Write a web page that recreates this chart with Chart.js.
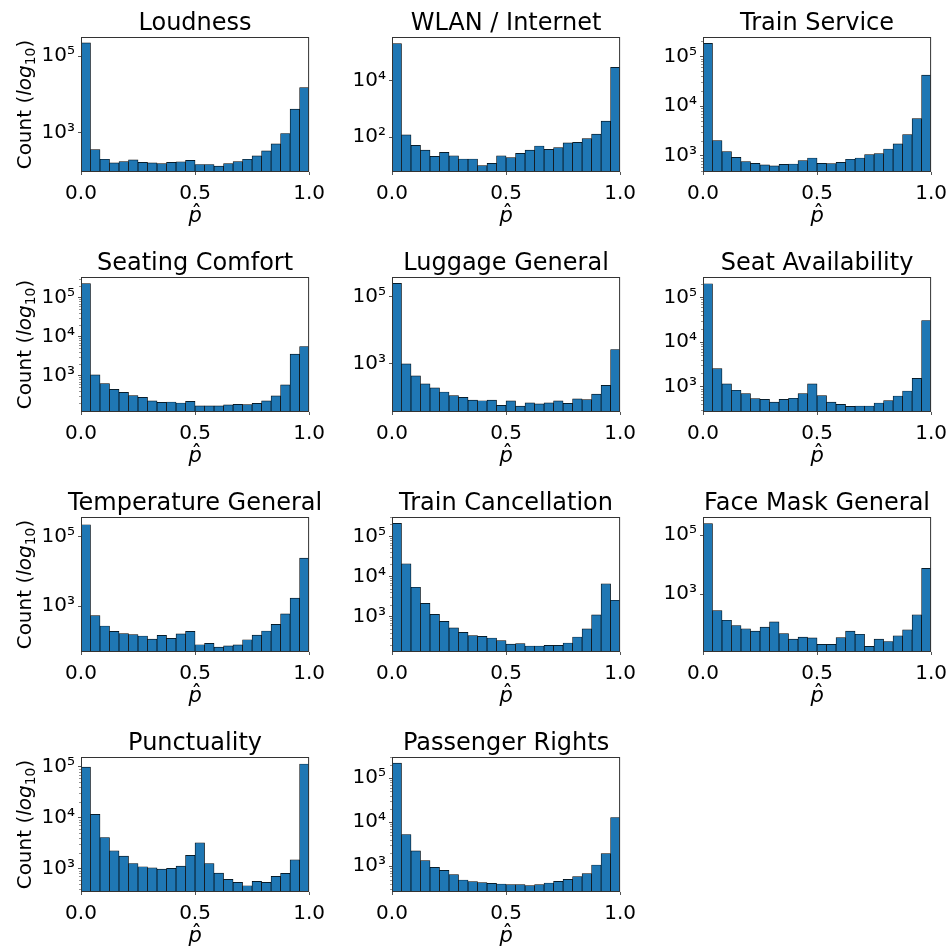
<!DOCTYPE html>
<html lang="en">
<head>
<meta charset="utf-8">
<title>Histograms of p-hat per aspect</title>
<script src="https://cdn.jsdelivr.net/npm/chart.js"></script>
<style>
    html, body { margin: 0; padding: 0; background: #fff; }
    #fig { position: relative; width: 951px; height: 950px; overflow: hidden; }
    #fig canvas { position: absolute; }
</style>
</head>
<body>
<div id="fig"></div>
<script>
    // 24 bins over [0, 1]
    const binCount = 24;
    const xTicks = [0, 0.5, 1];

    const titles = ['Loudness', 'WLAN / Internet', 'Train Service', 'Seating Comfort', 'Luggage General',
        'Seat Availability', 'Temperature General', 'Train Cancellation', 'Face Mask General',
        'Punctuality', 'Passenger Rights'];

    // counts per bin
    const loudness = [224000, 357, 199, 159, 173, 191, 165, 159, 152, 165, 170, 187, 145, 145, 131, 152, 173, 199, 243, 330, 503, 942, 4110, 14970];
    const wlanInternet = [206000, 121, 52, 35, 21, 29, 22, 17, 17, 10, 12, 22, 19, 27, 35, 49, 37, 43, 63, 66, 90, 128, 370, 29700];
    const trainService = [183000, 2040, 1220, 940, 770, 710, 660, 630, 680, 690, 805, 910, 710, 700, 745, 860, 910, 1060, 1110, 1380, 1750, 2690, 5650, 42000];
    const seatingComfort = [229000, 1040, 622, 445, 372, 305, 277, 223, 206, 210, 198, 218, 166, 166, 166, 176, 183, 179, 194, 223, 300, 575, 3550, 5590];
    const luggageGeneral = [243000, 1000, 441, 255, 194, 147, 115, 102, 85, 81, 85, 59, 80, 56, 70, 65, 70, 80, 68, 92, 87, 128, 232, 2670];
    const seatAvailability = [203000, 2540, 1150, 830, 700, 540, 520, 450, 520, 550, 700, 1150, 630, 450, 400, 360, 368, 368, 430, 485, 617, 800, 1540, 30400];
    const temperatureGeneral = [216000, 540, 272, 191, 164, 154, 141, 115, 147, 121, 161, 191, 79, 87, 68, 73, 78, 110, 150, 196, 304, 602, 1700, 23900];
    const trainCancellation = [211000, 20700, 5400, 2150, 1140, 765, 521, 406, 335, 322, 293, 251, 207, 211, 185, 185, 192, 192, 220, 310, 492, 1100, 6560, 2560];
    const faceMaskGeneral = [242000, 279, 131, 87, 67, 56, 76, 115, 46, 30, 35, 33, 20, 20, 34, 56, 44, 17, 30, 25, 39, 62, 200, 7410];
    const punctuality = [98500, 11600, 4060, 2220, 1750, 1250, 1080, 1030, 970, 1000, 1110, 1800, 3190, 1250, 810, 608, 531, 457, 556, 531, 697, 798, 1480, 113000];
    const passengerRights = [219000, 5250, 2230, 1350, 948, 811, 647, 489, 449, 426, 411, 397, 383, 383, 364, 383, 418, 456, 507, 582, 681, 1070, 1940, 12760];

    const series = [loudness, wlanInternet, trainService, seatingComfort, luggageGeneral, seatAvailability,
        temperatureGeneral, trainCancellation, faceMaskGeneral, punctuality, passengerRights];

    // y ranges and labelled decades of each panel
    const yMin = [92, 5.9, 476, 116, 37.5, 270, 49, 131, 11, 344, 261];
    const yMax = [3.2e5, 3.5e5, 2.45e5, 3.4e5, 3.75e5, 2.87e5, 3.59e5, 3.04e5, 4.08e5, 1.55e5, 3.0e5];
    const yDecades = [[3, 5], [2, 4], [3, 4, 5], [3, 4, 5], [3, 5], [3, 4, 5], [3, 5], [3, 4, 5], [3, 5], [3, 4, 5], [3, 4, 5]];

    // layout of the axes boxes on the page
    const AX_LEFT = [81, 392, 703];
    const AX_TOP = [37, 277, 517, 757];
    const AX_W = 229, AX_H = 135;
    const PAD_L = 80, PAD_T = 36, PAD_R = 22, PAD_B = 58;
    const FONT = 'DejaVu Sans';
    const SUP = { 1: '¹', 2: '²', 3: '³', 4: '⁴', 5: '⁵', 6: '⁶' };

    const fig = document.getElementById('fig');

    function panelPlugin(idx, col) {
        return {
            id: 'panel' + idx,
            afterDraw(chart) {
                const c = chart.ctx;
                const a = chart.chartArea;
                const ys = chart.scales.y;
                c.save();

                // minor ticks when every decade is labelled
                if (yDecades[idx].length === 3) {
                    c.strokeStyle = '#777';
                    c.lineWidth = 0.8;
                    const d0 = Math.floor(Math.log10(yMin[idx]));
                    const d1 = Math.ceil(Math.log10(yMax[idx]));
                    for (let d = d0; d <= d1; d++) {
                        for (let m = 2; m <= 9; m++) {
                            const v = m * Math.pow(10, d);
                            if (v < yMin[idx] || v > yMax[idx]) continue;
                            const py = Math.round(ys.getPixelForValue(v)) + 0.5;
                            c.beginPath();
                            c.moveTo(a.left - 2, py);
                            c.lineTo(a.left, py);
                            c.stroke();
                        }
                    }
                }

                // frame
                c.strokeStyle = '#333';
                c.lineWidth = 1;
                c.strokeRect(a.left + 0.5, a.top + 0.5, a.right - a.left - 1, a.bottom - a.top - 1);

                // title
                c.fillStyle = '#000';
                c.textAlign = 'center';
                c.textBaseline = 'alphabetic';
                c.font = '24px "' + FONT + '"';
                const cx = (a.left + a.right) / 2;
                c.fillText(titles[idx], cx, a.top - 7);

                // x label: p hat
                c.font = 'italic 21px "' + FONT + '"';
                c.fillText('p', cx, a.bottom + 50);
                c.font = '21px "' + FONT + '"';
                c.fillText('ˆ', cx + 1.5, a.bottom + 48);

                // y label on the first column
                if (col === 0) {
                    const parts = [
                        { t: 'Count (', f: '20px "' + FONT + '"', dy: 0 },
                        { t: 'log', f: 'italic 20px "' + FONT + '"', dy: 0 },
                        { t: '10', f: '14px "' + FONT + '"', dy: 4 },
                        { t: ')', f: '20px "' + FONT + '"', dy: 0 }
                    ];
                    let total = 0;
                    parts.forEach(p => { c.font = p.f; p.w = c.measureText(p.t).width; total += p.w; });
                    c.translate(30, (a.top + a.bottom) / 2);
                    c.rotate(-Math.PI / 2);
                    c.textAlign = 'left';
                    let x = -total / 2;
                    parts.forEach(p => {
                        c.font = p.f;
                        c.fillText(p.t, x, p.dy);
                        x += p.w;
                    });
                }
                c.restore();
            }
        };
    }

    series.forEach((values, idx) => {
        const col = idx % 3;
        const row = Math.floor(idx / 3);
        const canvas = document.createElement('canvas');
        const w = PAD_L + AX_W + PAD_R;
        const h = PAD_T + AX_H + PAD_B;
        canvas.width = w;
        canvas.height = h;
        canvas.style.left = (AX_LEFT[col] - PAD_L) + 'px';
        canvas.style.top = (AX_TOP[row] - PAD_T) + 'px';
        fig.appendChild(canvas);

        new Chart(canvas.getContext('2d'), {
            type: 'bar',
            data: {
                datasets: [{
                    data: values.map((v, i) => ({ x: (i + 0.5) / binCount, y: v })),
                    backgroundColor: '#1f77b4',
                    borderColor: '#000',
                    borderWidth: 0.7,
                    borderSkipped: false,
                    barPercentage: 1,
                    categoryPercentage: 1
                }]
            },
            options: {
                responsive: false,
                animation: false,
                devicePixelRatio: 1,
                layout: { padding: { left: 0, top: PAD_T, right: PAD_R, bottom: 0 } },
                plugins: {
                    legend: { display: false },
                    tooltip: { enabled: false },
                    title: { display: false }
                },
                scales: {
                    x: {
                        type: 'linear',
                        min: 0,
                        max: 1,
                        offset: false,
                        afterBuildTicks: s => { s.ticks = xTicks.map(v => ({ value: v })); },
                        afterFit: s => { s.height = PAD_B; },
                        border: { display: false },
                        grid: { display: true, offset: false, drawOnChartArea: false, tickLength: 3, tickColor: '#555', tickWidth: 1 },
                        ticks: {
                            font: { family: FONT, size: 20 },
                            color: '#000',
                            padding: 7,
                            maxRotation: 0,
                            autoSkip: false,
                            callback: v => Number(v).toFixed(1)
                        }
                    },
                    y: {
                        type: 'logarithmic',
                        min: yMin[idx],
                        max: yMax[idx],
                        afterBuildTicks: s => { s.ticks = yDecades[idx].map(d => ({ value: Math.pow(10, d) })); },
                        afterFit: s => { s.width = PAD_L; },
                        border: { display: false },
                        grid: { display: true, drawOnChartArea: false, tickLength: 3, tickColor: '#555', tickWidth: 1 },
                        ticks: {
                            font: { family: FONT, size: 20 },
                            color: '#000',
                            padding: 3,
                            autoSkip: false,
                            callback: v => '10' + SUP[Math.round(Math.log10(v))]
                        }
                    }
                }
            },
            plugins: [panelPlugin(idx, col)]
        });
    });
</script>
</body>
</html>
